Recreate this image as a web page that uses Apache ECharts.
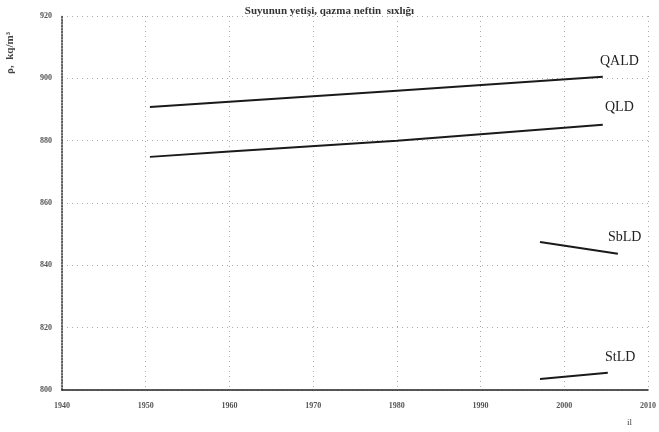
<!DOCTYPE html>
<html>
<head>
  <meta charset="UTF-8">
  <title>Sıxlıq</title>
  <script src="https://cdn.jsdelivr.net/npm/echarts@6/dist/echarts.min.js"></script>
  <style>
    html, body { margin:0; padding:0; background:#fff; }
    #chart { width:659px; height:432px; }
  </style>
</head>
<body>
<div id="chart"></div>
<script type="text/javascript">
  // illər (x) və sıxlıq (y)
  var years = ['1940','1950','1960','1970','1980','1990','2000','2010'];
  var yTicks = [800, 820, 840, 860, 880, 900, 920];

  var qaldX = [1950.5, 1960, 1980, 2004.6];
  var qaldY = [890.8, 892.5, 896.0, 900.5];
  var qldX = [1950.5, 1960, 1980, 2004.6];
  var qldY = [874.8, 876.5, 880.0, 885.1];
  var sbldX = [1997.1, 2006.4];
  var sbldY = [847.5, 843.7];
  var stldX = [1997.1, 2005.2];
  var stldY = [803.5, 805.5];

  function pairs(xs, ys){
    return xs.map(function(x, i){ return [x, ys[i]]; });
  }

  var chart = echarts.init(document.getElementById('chart'));
  var font = 'Liberation Serif';
  var lineStyle = { color:'#1a1a1a', width:2 };

  chart.setOption({
    backgroundColor:'#fff',
    animation:false,
    title:{
      text:'Suyunun yetişi, qazma neftin  sıxlığı',
      left:'center',
      top:1,
      textStyle:{ fontFamily:font, fontSize:11, fontWeight:'bold', color:'#333' }
    },
    grid:{ left:62, right:9, top:16, bottom:42 },
    xAxis:{
      type:'value',
      min:1940, max:2010, interval:10,
      axisLine:{ lineStyle:{ color:'#222', width:1.5 } },
      axisTick:{ show:false },
      axisLabel:{ fontFamily:font, fontSize:8, fontWeight:'bold', color:'#555', margin:12,
        formatter:function(v){ return years[(v - 1940) / 10]; } },
      splitLine:{ show:true, lineStyle:{ color:'#aaa', type:[1, 4] } }
    },
    yAxis:{
      type:'value',
      min:yTicks[0], max:yTicks[yTicks.length - 1], interval:20,
      axisLine:{ show:true, lineStyle:{ color:'#333', type:'dotted', width:1.5 } },
      axisTick:{ show:false },
      axisLabel:{ fontFamily:font, fontSize:8, fontWeight:'bold', color:'#555', margin:10 },
      splitLine:{ show:true, lineStyle:{ color:'#aaa', type:[1, 4] } }
    },
    graphic:[
      { type:'text', left:5, top:32, rotation:Math.PI / 2,
        style:{ text:'ρ,  kq/m³', font:'bold 11px ' + font, fill:'#444' } },
      { type:'text', left:627, top:418, style:{ text:'il', font:'9px ' + font, fill:'#444' } },
      { type:'text', left:600, top:54, style:{ text:'QALD', font:'14px ' + font, fill:'#222' } },
      { type:'text', left:605, top:100, style:{ text:'QLD', font:'14px ' + font, fill:'#222' } },
      { type:'text', left:608, top:230, style:{ text:'SbLD', font:'14px ' + font, fill:'#222' } },
      { type:'text', left:605, top:350, style:{ text:'StLD', font:'14px ' + font, fill:'#222' } }
    ],
    series:[
      { name:'QALD', type:'line', data:pairs(qaldX, qaldY), symbol:'none', lineStyle:lineStyle },
      { name:'QLD', type:'line', data:pairs(qldX, qldY), symbol:'none', lineStyle:lineStyle },
      { name:'SbLD', type:'line', data:pairs(sbldX, sbldY), symbol:'none', lineStyle:lineStyle },
      { name:'StLD', type:'line', data:pairs(stldX, stldY), symbol:'none', lineStyle:lineStyle }
    ]
  });
</script>
</body>
</html>
